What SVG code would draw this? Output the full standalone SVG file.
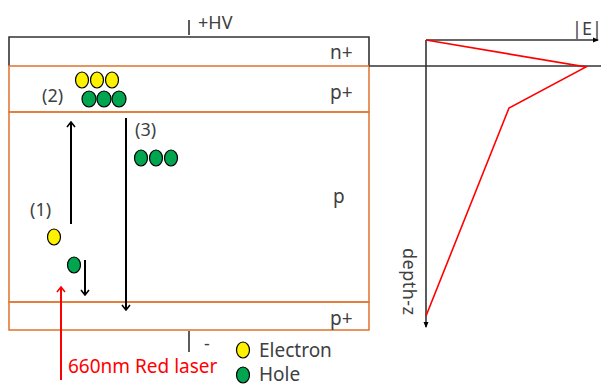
<svg xmlns="http://www.w3.org/2000/svg" width="601" height="386" viewBox="0 0 601 386">
<style>
text{font-family:"Noto Sans","Liberation Sans",sans-serif;fill:#404040;}
.lbl{font-size:19px;}
.num{font-size:18px;}
.blk{stroke:#000;stroke-width:2;fill:none;}
.ax{stroke:#333;stroke-width:1.6;fill:none;}
.layer{fill:none;stroke:#E07B39;stroke-width:1.6;}
.el{fill:#FFF200;stroke:#000;stroke-width:1.2;}
.ho{fill:#00A550;stroke:#000;stroke-width:1.2;}
</style>
<defs>
<marker id="chev" viewBox="0 0 10 10" refX="9" refY="5" markerWidth="10" markerHeight="10" markerUnits="userSpaceOnUse" orient="auto">
<path d="M4,1 L9,5 L4,9" fill="none" stroke="#000" stroke-width="1.6"/>
</marker>
<marker id="chevR" viewBox="0 0 10 10" refX="9" refY="5" markerWidth="10" markerHeight="10" markerUnits="userSpaceOnUse" orient="auto">
<path d="M4,1 L9,5 L4,9" fill="none" stroke="#FF0000" stroke-width="1.6"/>
</marker>
<marker id="tri" viewBox="0 0 6 6" refX="5" refY="3" markerWidth="6" markerHeight="6" markerUnits="userSpaceOnUse" orient="auto">
<path d="M0,0.5 L6,3 L0,5.5 Z" fill="#000"/>
</marker>
</defs>

<g id="device">
<path d="M9,66 V37 H369 V66" class="ax"/>
<rect x="9" y="66" width="360" height="46" class="layer"/>
<rect x="9" y="112" width="360" height="190" class="layer"/>
<rect x="9" y="302" width="360" height="28" class="layer"/>
<line x1="189" y1="20" x2="189" y2="35" class="ax"/>
<line x1="189" y1="331" x2="189" y2="352" class="ax"/>
<text x="198" y="29" style="font-size:18px">+HV</text>
<text x="204" y="350" style="font-size:18px">-</text>
<text x="330" y="59" class="lbl">n+</text>
<text x="330" y="99" class="lbl">p+</text>
<text x="333" y="203" class="lbl">p</text>
<text x="330" y="325" class="lbl">p+</text>
</g>

<g id="group2">
<text x="42" y="102" class="num">(2)</text>
<ellipse cx="82" cy="80" rx="6.5" ry="8" class="el"/>
<ellipse cx="97" cy="80" rx="6.5" ry="8" class="el"/>
<ellipse cx="112" cy="80" rx="6.5" ry="8" class="el"/>
<ellipse cx="89" cy="99" rx="7" ry="8" class="ho"/>
<ellipse cx="104" cy="99" rx="7" ry="8" class="ho"/>
<ellipse cx="119" cy="99" rx="7" ry="8" class="ho"/>
</g>

<g id="group3">
<text x="135" y="136" class="num">(3)</text>
<ellipse cx="141" cy="158" rx="6.5" ry="8" class="ho"/>
<ellipse cx="156" cy="158" rx="6.5" ry="8" class="ho"/>
<ellipse cx="171" cy="158" rx="6.5" ry="8" class="ho"/>
</g>

<g id="group1">
<text x="30" y="216" class="num">(1)</text>
<ellipse cx="54" cy="237" rx="6.5" ry="8" class="el"/>
<ellipse cx="74" cy="265" rx="6.5" ry="8" class="ho"/>
</g>

<g id="connectors">
<line x1="71" y1="224" x2="71" y2="122" class="blk" marker-end="url(#chev)"/>
<line x1="126" y1="118" x2="126" y2="310" class="blk" marker-end="url(#chev)"/>
<line x1="85" y1="260" x2="85" y2="295" class="blk" marker-end="url(#chev)"/>
<line x1="61" y1="380" x2="61" y2="287" stroke="#FF0000" stroke-width="2" marker-end="url(#chevR)"/>
</g>

<g id="laser">
<text x="68" y="373" style="font-size:19px;fill:#FF0000">660nm Red laser</text>
</g>

<g id="legend">
<ellipse cx="243" cy="350" rx="6.5" ry="8" class="el"/>
<text x="259" y="357" style="font-size:19px">Electron</text>
<ellipse cx="243" cy="375" rx="6.5" ry="8" class="ho"/>
<text x="259" y="381" style="font-size:19px">Hole</text>
</g>

<g id="chart">
<line x1="369" y1="66" x2="601" y2="66" class="ax"/>
<line x1="426" y1="40" x2="598" y2="40" class="ax" marker-end="url(#tri)"/>
<line x1="426" y1="40" x2="426" y2="327" class="ax" marker-end="url(#tri)"/>
<polyline points="426,40 586,67 509,108 426,316" fill="none" stroke="#FF0000" stroke-width="1.6"/>
<text x="572" y="35" style="font-size:18px">|E|</text>
<text transform="translate(403,248) rotate(90)" x="0" y="0" style="font-size:18px" textLength="67" lengthAdjust="spacing">depth-z</text>
</g>
</svg>
